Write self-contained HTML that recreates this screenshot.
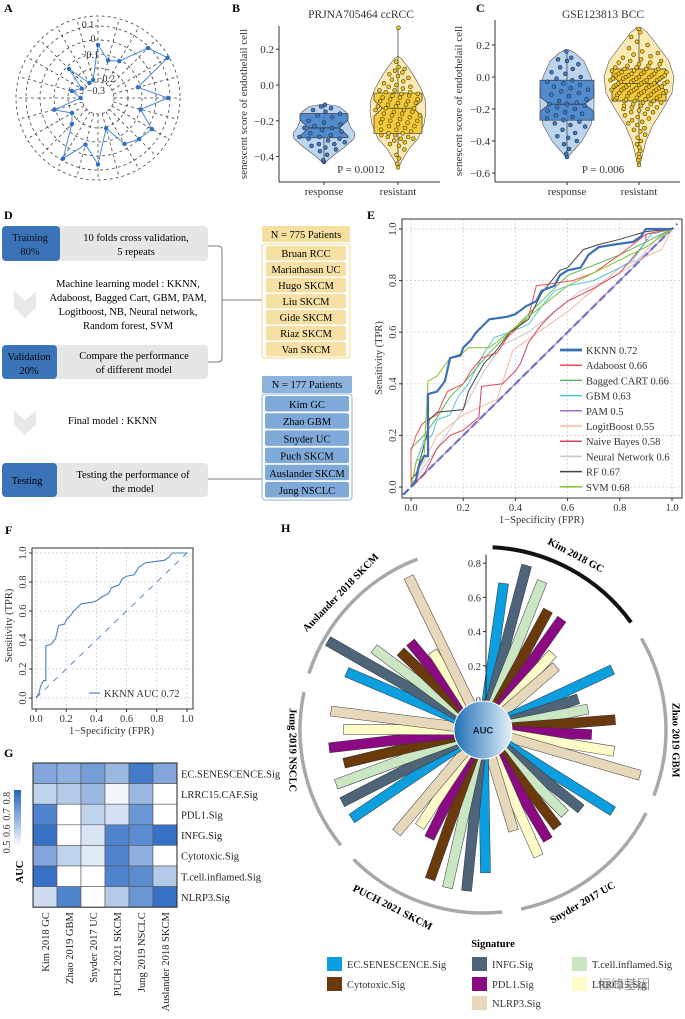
<!DOCTYPE html>
<html><head><meta charset="utf-8"><style>
html,body{margin:0;padding:0;background:#fff;}
svg{display:block;font-family:"Liberation Serif","Noto Serif CJK SC",serif;}
</style></head><body>
<svg id="fig" width="685" height="1019" viewBox="0 0 685 1019" xmlns="http://www.w3.org/2000/svg">
<defs>
<linearGradient id="aucg" x1="0" x2="1" y1="0" y2="0"><stop offset="0" stop-color="#1f6fb5"/><stop offset="1" stop-color="#e3f1fb"/></linearGradient>
<linearGradient id="cbar" x1="0" x2="0" y1="1" y2="0"><stop offset="0" stop-color="#ffffff"/><stop offset="1" stop-color="#2464c0"/></linearGradient>
</defs>
<g font-weight="bold" font-size="12">
<text x="4" y="12">A</text>
<text x="232" y="12">B</text>
<text x="476" y="12">C</text>
<text x="4" y="219">D</text>
<text x="367" y="219">E</text>
<text x="5" y="534">F</text>
<text x="4" y="757">G</text>
<text x="281" y="532">H</text>
</g>
<g id="pA"></g>
<g id="pB"></g>
<g id="pC"></g>
<g id="pD" font-size="10.5">
 <rect x="2" y="226" width="206" height="35" rx="4" fill="#e6e6e6"/>
 <rect x="2" y="226" width="58" height="35" rx="4" fill="#3b73b9"/>
 <text x="30" y="241" text-anchor="middle" fill="#111">Training</text>
 <text x="30" y="255" text-anchor="middle" fill="#111">80%</text>
 <text x="136" y="241" text-anchor="middle">10 folds cross validation,</text>
 <text x="136" y="255" text-anchor="middle">5 repeats</text>
 <path d="M208 246 H218 Q222 246 222 250 V358 Q222 362 218 362 H208 M222 300 H262" fill="none" stroke="#555" stroke-width="0.8"/>
 <path d="M14 291 L25 301 L36 291 L36 308 L25 318 L14 308 Z" fill="#e8e8e8"/>
 <text x="128" y="287" text-anchor="middle">Machine learning model : KKNN,</text>
 <text x="128" y="301" text-anchor="middle">Adaboost, Bagged Cart, GBM, PAM,</text>
 <text x="128" y="315" text-anchor="middle">Logitboost, NB, Neural network,</text>
 <text x="128" y="329" text-anchor="middle">Random forest, SVM</text>
 <rect x="2" y="345" width="206" height="34" rx="4" fill="#e6e6e6"/>
 <rect x="2" y="345" width="55" height="34" rx="4" fill="#3b73b9"/>
 <text x="29" y="360" text-anchor="middle">Validation</text>
 <text x="29" y="374" text-anchor="middle">20%</text>
 <text x="134" y="359" text-anchor="middle">Compare the performance</text>
 <text x="134" y="373" text-anchor="middle">of different model</text>
 <path d="M14 410 L25 420 L36 410 L36 425 L25 435 L14 425 Z" fill="#e8e8e8"/>
 <text x="68" y="424">Final model : KKNN</text>
 <rect x="2" y="463" width="206" height="34" rx="4" fill="#e6e6e6"/>
 <rect x="2" y="463" width="55" height="34" rx="4" fill="#3b73b9"/>
 <text x="27" y="484" text-anchor="middle">Testing</text>
 <text x="133" y="478" text-anchor="middle">Testing the performance of</text>
 <text x="133" y="492" text-anchor="middle">the model</text>
 <path d="M208 479 H262" stroke="#555" stroke-width="0.8"/>
 <g id="cohorts"></g>
</g>
<g id="pE"></g>
<g id="pF"></g>
<g id="pG"></g>
<g id="pH"></g>
</svg>
<script>
// ---------- Panel A data ----------
const radarValues=[-0.035,-0.136,-0.11,0.09,0.16,-0.12,0.085,-0.1,0.03,0,-0.035,-0.19,0.06,-0.07,0.085,-0.15,-0.2,-0.09,-0.29,-0.22,-0.28,-0.12,-0.29,-0.28];
const radarTicks=[0.1,0,-0.1,-0.2,-0.3];
// ---------- Panel B data ----------
const bGroups=['response','resistant'];
const bResponse=[-0.43,-0.42,-0.39,-0.37,-0.36,-0.35,-0.34,-0.33,-0.33,-0.32,-0.31,-0.3,-0.3,-0.29,-0.29,-0.28,-0.27,-0.26,-0.25,-0.24,-0.24,-0.23,-0.22,-0.21,-0.2,-0.18,-0.17,-0.16,-0.15,-0.14,-0.13,-0.12,-0.11];
const bResistant=[-0.46,-0.44,-0.41,-0.39,-0.36,-0.34,-0.33,-0.32,-0.31,-0.3,-0.3,-0.29,-0.29,-0.28,-0.28,-0.27,-0.27,-0.26,-0.25,-0.25,-0.24,-0.23,-0.23,-0.22,-0.21,-0.21,-0.2,-0.2,-0.19,-0.19,-0.18,-0.17,-0.17,-0.16,-0.16,-0.15,-0.15,-0.14,-0.14,-0.13,-0.13,-0.12,-0.12,-0.11,-0.11,-0.1,-0.1,-0.09,-0.09,-0.08,-0.08,-0.07,-0.07,-0.06,-0.06,-0.05,-0.05,-0.04,-0.04,-0.03,-0.03,-0.02,-0.01,-0.01,0,0.01,0.02,0.03,0.04,0.05,0.06,0.07,0.08,0.09,0.1,0.13,0.32];
const bStats={response:[-0.295,-0.24,-0.16],resistant:[-0.27,-0.13,-0.045]};
const bTicks=[0.2,0,-0.2,-0.4];
// ---------- Panel C data ----------
const cResponse=[-0.5,-0.48,-0.45,-0.42,-0.4,-0.38,-0.37,-0.35,-0.33,-0.31,-0.3,-0.29,-0.28,-0.27,-0.26,-0.25,-0.24,-0.23,-0.22,-0.21,-0.2,-0.19,-0.18,-0.17,-0.17,-0.16,-0.15,-0.14,-0.12,-0.11,-0.1,-0.09,-0.08,-0.07,-0.06,-0.05,-0.04,-0.03,-0.02,-0.01,0,0.02,0.03,0.05,0.06,0.08,0.1,0.11,0.12,0.16];
const cResistant=[-0.55,-0.52,-0.5,-0.48,-0.46,-0.44,-0.42,-0.4,-0.38,-0.36,-0.34,-0.33,-0.32,-0.3,-0.29,-0.28,-0.27,-0.26,-0.25,-0.24,-0.23,-0.22,-0.22,-0.21,-0.2,-0.2,-0.19,-0.19,-0.18,-0.18,-0.17,-0.17,-0.16,-0.16,-0.15,-0.15,-0.15,-0.14,-0.14,-0.14,-0.13,-0.13,-0.13,-0.12,-0.12,-0.12,-0.11,-0.11,-0.11,-0.1,-0.1,-0.1,-0.1,-0.09,-0.09,-0.09,-0.09,-0.08,-0.08,-0.08,-0.08,-0.07,-0.07,-0.07,-0.07,-0.06,-0.06,-0.06,-0.06,-0.05,-0.05,-0.05,-0.05,-0.04,-0.04,-0.04,-0.04,-0.03,-0.03,-0.03,-0.03,-0.02,-0.02,-0.02,-0.02,-0.01,-0.01,-0.01,-0.01,0,0,0,0,0.01,0.01,0.01,0.01,0.02,0.02,0.02,0.02,0.03,0.03,0.03,0.04,0.04,0.04,0.05,0.05,0.05,0.06,0.06,0.07,0.07,0.08,0.08,0.09,0.09,0.1,0.1,0.11,0.12,0.13,0.14,0.15,0.16,0.18,0.2,0.22,0.25,0.28,0.3];
const cStats={response:[-0.27,-0.17,-0.02],resistant:[-0.15,-0.04,0.05]};
const cTicks=[0.2,0,-0.2,-0.4,-0.6];
// ---------- Panel D data ----------
const trainCohorts=['Bruan RCC','Mariathasan UC','Hugo SKCM','Liu SKCM','Gide SKCM','Riaz SKCM','Van SKCM'];
const testCohorts=['Kim GC','Zhao GBM','Snyder UC','Puch SKCM','Auslander SKCM','Jung NSCLC'];
// ---------- Panel E data ----------
const rocNames=['KKNN 0.72','Adaboost 0.66','Bagged CART 0.66','GBM 0.63','PAM 0.5','LogitBoost 0.55','Naive Bayes 0.58','Neural Network 0.6','RF 0.67','SVM 0.68'];
const rocKKNN=[[0,0],[0.02,0.03],[0.03,0.08],[0.04,0.1],[0.05,0.12],[0.065,0.12],[0.065,0.36],[0.1,0.37],[0.13,0.41],[0.15,0.5],[0.19,0.51],[0.2,0.54],[0.23,0.57],[0.25,0.6],[0.28,0.63],[0.3,0.65],[0.37,0.66],[0.4,0.67],[0.44,0.7],[0.48,0.72],[0.5,0.76],[0.55,0.78],[0.57,0.82],[0.6,0.84],[0.65,0.85],[0.68,0.9],[0.72,0.93],[0.78,0.94],[0.85,0.95],[0.88,0.97],[0.9,1],[1,1]];
const rocAda=[[0,0],[0,0.14],[0.02,0.2],[0.04,0.24],[0.06,0.26],[0.1,0.28],[0.12,0.33],[0.14,0.37],[0.2,0.4],[0.23,0.45],[0.27,0.5],[0.33,0.52],[0.37,0.58],[0.42,0.63],[0.45,0.66],[0.48,0.78],[0.55,0.79],[0.62,0.8],[0.7,0.83],[0.8,0.9],[0.9,0.98],[1,1]];
const rocBag=[[0,0],[0,0.15],[0.05,0.2],[0.1,0.27],[0.15,0.35],[0.2,0.4],[0.3,0.52],[0.4,0.62],[0.5,0.72],[0.6,0.82],[0.7,0.86],[0.8,0.9],[0.9,0.95],[1,1]];
const rocGBM=[[0,0],[0.02,0.1],[0.05,0.18],[0.08,0.2],[0.1,0.26],[0.15,0.28],[0.18,0.35],[0.22,0.4],[0.28,0.52],[0.32,0.58],[0.38,0.6],[0.45,0.63],[0.5,0.7],[0.55,0.76],[0.6,0.78],[0.7,0.8],[0.8,0.85],[0.85,0.88],[0.92,0.98],[1,1]];
const rocPAM=[[0,0],[1,1]];
const rocLogit=[[0,0.03],[0.05,0.1],[0.1,0.2],[0.2,0.28],[0.33,0.34],[0.39,0.53],[0.6,0.68],[0.8,0.85],[0.96,0.92],[1,1]];
const rocNB=[[0,0],[0.05,0.05],[0.1,0.15],[0.15,0.2],[0.2,0.22],[0.26,0.27],[0.27,0.39],[0.35,0.4],[0.38,0.43],[0.4,0.45],[0.42,0.48],[0.45,0.56],[0.5,0.63],[0.55,0.68],[0.6,0.72],[0.7,0.77],[0.8,0.83],[0.9,0.95],[0.9,0.98],[1,1]];
const rocNN=[[0,0],[0.05,0.08],[0.1,0.15],[0.2,0.3],[0.28,0.45],[0.35,0.55],[0.45,0.6],[0.55,0.68],[0.65,0.76],[0.75,0.8],[0.85,0.86],[0.95,0.97],[1,1]];
const rocRF=[[0,0.03],[0.02,0.05],[0.06,0.2],[0.07,0.26],[0.1,0.29],[0.2,0.3],[0.22,0.37],[0.28,0.48],[0.32,0.52],[0.38,0.6],[0.45,0.65],[0.5,0.75],[0.57,0.84],[0.6,0.85],[0.66,0.92],[0.72,0.94],[0.8,0.96],[0.9,0.99],[1,1]];
const rocSVM=[[0,0],[0.02,0.1],[0.05,0.12],[0.065,0.41],[0.1,0.43],[0.15,0.5],[0.2,0.52],[0.22,0.54],[0.3,0.54],[0.35,0.58],[0.45,0.66],[0.5,0.7],[0.55,0.74],[0.6,0.78],[0.7,0.83],[0.8,0.88],[0.9,0.93],[1,1]];
const rocTicks=[0,0.2,0.4,0.6,0.8,1.0];
// ---------- Panel G data ----------
const hmRows=['EC.SENESCENCE.Sig','LRRC15.CAF.Sig','PDL1.Sig','INFG.Sig','Cytotoxic.Sig','T.cell.inflamed.Sig','NLRP3.Sig'];
const hmCols=['Kim 2018 GC','Zhao 2019 GBM','Snyder 2017 UC','PUCH 2021 SKCM','Jung 2019 NSCLC','Auslander 2018 SKCM'];
const hmEC=[0.7,0.68,0.72,0.66,0.8,0.7];
const hmLRRC=[0.6,0.62,0.66,0.52,0.66,0.45];
const hmPDL1=[0.78,0.45,0.6,0.57,0.74,0.45];
const hmINFG=[0.82,0.45,0.56,0.78,0.76,0.82];
const hmCyto=[0.7,0.6,0.55,0.78,0.68,0.45];
const hmTcell=[0.82,0.45,0.45,0.78,0.76,0.62];
const hmNLRP3=[0.58,0.78,0.45,0.62,0.74,0.82];
const cbarTicks=[0.5,0.6,0.7,0.8];
// ---------- Panel H data ----------
const hGroups=['Kim 2018 GC','Zhao 2019 GBM','Snyder 2017 UC','PUCH 2021 SKCM','Jung 2019 NSCLC','Auslander 2018 SKCM'];
const hSigs=['EC.SENESCENCE.Sig','INFG.Sig','T.cell.inflamed.Sig','Cytotoxic.Sig','PDL1.Sig','LRRC15.Sig','NLRP3.Sig'];
const hKim=[0.69,0.82,0.76,0.62,0.62,0.43,0.39];
const hZhao=[0.66,0.41,0.45,0.6,0.46,0.6,0.78];
const hSnyder=[0.72,0.56,0.51,0.54,0.57,0.63,0.44];
const hPuch=[0.66,0.77,0.77,0.75,0.53,0.5,0.61];
const hJung=[0.75,0.75,0.74,0.66,0.73,0.64,0.72];
const hAus=[0.69,0.87,0.62,0.49,0.49,0.37,0.82];
const hTicks=[0,0.2,0.4,0.6,0.8];

const NS='http://www.w3.org/2000/svg';
function mk(parent,tag,attrs,txt){const e=document.createElementNS(NS,tag);for(const k in attrs)e.setAttribute(k,attrs[k]);if(txt!==undefined)e.textContent=txt;parent.appendChild(e);return e;}
const fmt=v=>(v<0?'\u2212':'')+Math.abs(v).toFixed(1);

// ===== Panel A =====
(function(){
 const g=document.getElementById('pA');const cx=98,cy=98;
 const rA=v=>16+(v+0.3)*140;
 [82].concat(radarTicks.map(rA)).forEach(r=>{const c=mk(g,'circle',{cx,cy,r,fill:'none',stroke:'#444','stroke-width':0.8,'stroke-dasharray':'3,3'});
 
 });
 const n=radarValues.length;
 for(let i=0;i<n;i++){const a=i/n*2*Math.PI;const s=mk(g,'line',{x1:cx+rA(-0.3)*Math.sin(a),y1:cy-rA(-0.3)*Math.cos(a),x2:cx+82*Math.sin(a),y2:cy-82*Math.cos(a),stroke:'#444','stroke-width':0.8,'stroke-dasharray':'3,3'});
 
 }
 const pts=radarValues.map((v,i)=>{const a=i/n*2*Math.PI;return [cx+rA(v)*Math.sin(a),cy-rA(v)*Math.cos(a)];});
 const pl=mk(g,'polygon',{points:pts.map(p=>p.join(',')).join(' '),fill:'none',stroke:'#4a8ad4','stroke-width':1});
 
 
 pts.forEach(p=>{const d=mk(g,'circle',{cx:p[0],cy:p[1],r:2.2,fill:'#2f6fc4'});
 
 });
 const offs=[[-10,2],[-5,2],[-8,4],[8,14],[-2,12]];
 radarTicks.forEach((v,i)=>{const t=mk(g,'text',{x:cx+offs[i][0],y:cy-rA(v)+offs[i][1],'font-size':10,'text-anchor':'middle',fill:'#333'},v===0?'0':fmt(v));
 
 });
})();

// ===== Panels B & C =====
function violinPanel(id,o){
 const g=document.getElementById(id);
 const y=o.y;
 mk(g,'line',{x1:o.ax,y1:o.top,x2:o.ax,y2:o.bot,stroke:'#333','stroke-width':1});
 mk(g,'line',{x1:o.ax,y1:o.bot,x2:o.right,y2:o.bot,stroke:'#333','stroke-width':1});
 o.ticks.forEach(v=>{mk(g,'line',{x1:o.ax-3,y1:y(v),x2:o.ax,y2:y(v),stroke:'#333'});
  const t=mk(g,'text',{x:o.ax-5,y:y(v)+4,'font-size':11,'text-anchor':'end',fill:'#333'},v===0?'0.0':fmt(v));
  
  });
 const tt=mk(g,'text',{x:(o.xs[0]+o.xs[1])/2,y:18,'font-size':11.5,'text-anchor':'middle',fill:'#333'},o.title);
 
 
 const yl=mk(g,'text',{transform:`translate(${o.ylx},${(o.top+o.bot)/2}) rotate(-90)`,'font-size':11,'text-anchor':'middle',fill:'#333'},'senescent score of endothelail cell');
 
 
 const pv=mk(g,'text',{x:(o.xs[0]+o.xs[1])/2,y:o.bot-9,'font-size':11,'text-anchor':'middle',fill:'#333'},o.p);
 
 
 bGroups.forEach((name,gi)=>{
  const x=o.xs[gi],vals=o.vals[gi],prof=o.prof[gi],st=o.stats[name],col=o.cols[gi];
  mk(g,'line',{x1:x,y1:o.bot,x2:x,y2:o.bot+3,stroke:'#333'});
  const xl=mk(g,'text',{x,y:o.bot+13,'font-size':11,'text-anchor':'middle',fill:'#333'},name);
  
  
  const L=prof.map(p=>[x-p[1],y(p[0])]),R=prof.slice().reverse().map(p=>[x+p[1],y(p[0])]);
  const vi=mk(g,'polygon',{points:L.concat(R).map(p=>p.join(',')).join(' '),fill:col[0],'fill-opacity':0.75,stroke:'#555','stroke-width':0.6});
  
  
  mk(g,'line',{x1:x,y1:y(Math.min(...vals)),x2:x,y2:y(Math.max(...vals)),stroke:'#333','stroke-width':0.7});
  const hw=o.bw,n=0.045;const[q1,md,q3]=st;
  const bp=[[x-hw,y(q3)],[x+hw,y(q3)],[x+hw,y(md+n)],[x+hw*0.65,y(md)],[x+hw,y(md-n)],[x+hw,y(q1)],[x-hw,y(q1)],[x-hw,y(md-n)],[x-hw*0.65,y(md)],[x-hw,y(md+n)]];
  const bx=mk(g,'polygon',{points:bp.map(p=>p.join(',')).join(' '),fill:col[1],'fill-opacity':0.85,stroke:'#333','stroke-width':0.7});
  
  
  mk(g,'line',{x1:x-hw*0.65,y1:y(md),x2:x+hw*0.65,y2:y(md),stroke:'#333','stroke-width':0.8});
  vals.forEach((v,i)=>{
   let w=0;for(let k=0;k<prof.length-1;k++){if(v>=prof[k][0]&&v<=prof[k+1][0]){const f=(v-prof[k][0])/(prof[k+1][0]-prof[k][0]||1);w=prof[k][1]+f*(prof[k+1][1]-prof[k][1]);}}
   const j=(((i*37+11)%23)/22-0.5)*2*Math.max(w-3,1)*0.9;
   const d=mk(g,'circle',{cx:x+j,cy:y(v),r:2,fill:col[2],stroke:'#222','stroke-width':0.5});
   
   
  });
 });
}
violinPanel('pB',{y:v=>85-v*179,ax:279,top:26,bot:182,right:440,xs:[324,398],ticks:bTicks,title:'PRJNA705464 ccRCC',ylx:247,p:'P = 0.0012',bw:24,
 vals:[bResponse,bResistant],stats:bStats,
 prof:[[[-0.43,2],[-0.4,8],[-0.35,20],[-0.3,30],[-0.27,31],[-0.24,27],[-0.2,24],[-0.15,22],[-0.12,15],[-0.11,4]],[[-0.46,1],[-0.42,4],[-0.35,12],[-0.3,20],[-0.22,26],[-0.15,28],[-0.08,27],[-0.02,23],[0.05,16],[0.1,10],[0.15,3],[0.16,0]]],
 cols:[['#a7c6ea','#3f7fc8','#3b78c8'],['#f9e39a','#f1c62a','#f2c316']]});
violinPanel('pC',{y:v=>77-v*160,ax:495,top:20,bot:182,right:680,xs:[567,639],ticks:cTicks,title:'GSE123813 BCC',ylx:490-28,p:'P = 0.006',bw:27,
 vals:[cResponse,cResistant],stats:cStats,
 prof:[[[-0.5,1],[-0.45,8],[-0.4,15],[-0.3,24],[-0.2,27],[-0.1,27],[0,24],[0.1,17],[0.15,8],[0.17,2]],[[-0.55,1],[-0.5,3],[-0.4,7],[-0.3,14],[-0.2,24],[-0.1,33],[0,35],[0.1,30],[0.2,18],[0.28,8],[0.31,2]]],
 cols:[['#a7c6ea','#3f7fc8','#3b78c8'],['#f9e39a','#f1c62a','#f2c316']]});

// ===== Panel D cohorts =====
(function(){
 const g=document.getElementById('cohorts');
 const h1=mk(g,'rect',{x:262,y:226,width:88,height:16,fill:'#f6e0a0',rx:1});
 
 
 mk(g,'text',{x:306,y:238,'text-anchor':'middle'},'N = 775 Patients');
 mk(g,'rect',{x:262,y:244,width:88,height:114,fill:'#fff',stroke:'#f2d88a','stroke-width':1,rx:3});
 trainCohorts.forEach((c,i)=>{const r=mk(g,'rect',{x:266,y:246+i*16,width:80,height:14.5,fill:'#f6e0a3',rx:2});
  
  
  mk(g,'text',{x:306,y:257+i*16,'text-anchor':'middle'},c);});
 const h2=mk(g,'rect',{x:262,y:376,width:90,height:17,fill:'#8db4df',rx:1});
 
 
 mk(g,'text',{x:307,y:388,'text-anchor':'middle'},'N = 177 Patients');
 mk(g,'rect',{x:262,y:394,width:90,height:106,fill:'#fff',stroke:'#8db4df','stroke-width':1,rx:3});
 testCohorts.forEach((c,i)=>{const r=mk(g,'rect',{x:265,y:396+i*17.2,width:84,height:15.5,fill:'#7ea9d8',rx:2});
  
  
  mk(g,'text',{x:307,y:408+i*17.2,'text-anchor':'middle'},c);});
})();

// ===== ROC helper =====
function rocFrame(g,xs,ys,fr,fs){
 rocTicks.forEach(t=>{
  mk(g,'line',{x1:xs(t),y1:fr[1],x2:xs(t),y2:fr[1]+fr[3],stroke:'#bbb','stroke-width':0.7,'stroke-dasharray':'1.5,2.5'});
  mk(g,'line',{x1:fr[0],y1:ys(t),x2:fr[0]+fr[2],y2:ys(t),stroke:'#bbb','stroke-width':0.7,'stroke-dasharray':'1.5,2.5'});
  mk(g,'line',{x1:xs(t),y1:fr[1]+fr[3],x2:xs(t),y2:fr[1]+fr[3]+3,stroke:'#333'});
  mk(g,'line',{x1:fr[0]-3,y1:ys(t),x2:fr[0],y2:ys(t),stroke:'#333'});
  const xl=mk(g,'text',{x:xs(t),y:fr[1]+fr[3]+13,'font-size':fs,'text-anchor':'middle',fill:'#333'},t.toFixed(1));
  
  
  const yl=mk(g,'text',{transform:`translate(${fr[0]-6},${ys(t)}) rotate(-90)`,'font-size':fs,'text-anchor':'middle',fill:'#333'},t.toFixed(1));
  
  
 });
 const ft=mk(g,'rect',{x:fr[0],y:fr[1],width:fr[2],height:fr[3],fill:'none',stroke:'#333','stroke-width':1});
 
 
 const xt=mk(g,'text',{x:(xs(0)+xs(1))/2,y:fr[1]+fr[3]+25,'font-size':fs,'text-anchor':'middle',fill:'#333'},'1\u2212Specificity (FPR)');
 
 
 const yt=mk(g,'text',{transform:`translate(${fr[0]-20},${(ys(0)+ys(1))/2}) rotate(-90)`,'font-size':fs,'text-anchor':'middle',fill:'#333'},'Sensitivity (TPR)');
 
 
}
function rocPath(pts,xs,ys){return pts.map((p,i)=>(i?'L':'M')+xs(p[0]).toFixed(1)+' '+ys(p[1]).toFixed(1)).join(' ');}

// ===== Panel E =====
(function(){
 const g=document.getElementById('pE');
 const xs=f=>411+f*261,ys=t=>487-t*258;
 rocFrame(g,xs,ys,[402,219,280,279],10.5);
 const series=[rocKKNN,rocAda,rocBag,rocGBM,rocPAM,rocLogit,rocNB,rocNN,rocRF,rocSVM];
 const cols=['#3d6fb6','#f04e4e','#5cb85c','#4fc3d9','#a070c8','#f7b79d','#d6405e','#c8c8c8','#444444','#8cc63f'];
 const wd=[2.2,1,1,1,1,1,1,1,1,1.1];
 const dg=mk(g,'line',{x1:xs(-0.03),y1:ys(-0.03),x2:xs(1.02),y2:ys(1.02),stroke:'#4a6fb6','stroke-width':2.2,'stroke-dasharray':'8,4'});
 
 
 [4,5,7,6,3,2,1,8,9,0].forEach(i=>{
  const p=mk(g,'path',{d:rocPath(series[i],xs,ys),fill:'none',stroke:cols[i],'stroke-width':wd[i]});
  
  
 });
 rocNames.forEach((n,i)=>{const yy=350+i*15.2;
  const l=mk(g,'line',{x1:560,y1:yy,x2:582,y2:yy,stroke:cols[i],'stroke-width':wd[i]+0.5});
  
  
  const t=mk(g,'text',{x:586,y:yy+4,'font-size':10.5,fill:'#333'},n);
  
  });
})();

// ===== Panel F =====
(function(){
 const g=document.getElementById('pF');
 const xs=f=>36+f*151,ys=t=>698-t*145;
 rocFrame(g,xs,ys,[32,548,161,161],10.5);
 const dg=mk(g,'line',{x1:xs(0),y1:ys(0),x2:xs(1),y2:ys(1),stroke:'#4a7fc0','stroke-width':0.9,'stroke-dasharray':'6,6'});
 
 
 const p=mk(g,'path',{d:rocPath(rocKKNN,xs,ys),fill:'none',stroke:'#4a80c4','stroke-width':1.1});
 
 
 mk(g,'line',{x1:89,y1:693,x2:100,y2:693,stroke:'#4a80c4','stroke-width':1.2});
 const t=mk(g,'text',{x:104,y:697,'font-size':10.5,fill:'#333'},'KKNN AUC 0.72');
 
 
})();

// ===== Panel G =====
(function(){
 const g=document.getElementById('pG');
 const data=[hmEC,hmLRRC,hmPDL1,hmINFG,hmCyto,hmTcell,hmNLRP3];
 const x0=33,y0=763,cw=24,ch=20.6;
 const col=v=>{let f=Math.max(0,Math.min(1,(v-0.5)/0.35));const c0=[255,255,255],c1=[36,100,192];return 'rgb('+c0.map((c,i)=>Math.round(c+(c1[i]-c)*f)).join(',')+')';};
 data.forEach((row,r)=>row.forEach((v,c)=>{
  const e=mk(g,'rect',{x:x0+c*cw,y:y0+r*ch,width:cw,height:ch,fill:col(v),stroke:'#555','stroke-width':0.6});
  
  
 }));
 mk(g,'rect',{x:x0,y:y0,width:cw*6,height:ch*7,fill:'none',stroke:'#222','stroke-width':1});
 hmRows.forEach((n,r)=>{const t=mk(g,'text',{x:x0+cw*6+4,y:y0+r*ch+ch/2+4,'font-size':10.5,fill:'#222'},n);
  
  });
 hmCols.forEach((n,c)=>{const t=mk(g,'text',{transform:`translate(${x0+c*cw+cw/2+4},${y0+ch*7+5}) rotate(-90)`,'font-size':10.5,'text-anchor':'end',fill:'#222'},n);
  
  });
 const cb=mk(g,'rect',{x:14,y:790,width:7,height:57,fill:'url(#cbar)'});
 
 
 const cy=v=>847-(v-0.5)/0.35*57;
 cbarTicks.forEach(v=>{const t=mk(g,'text',{transform:`translate(10,${cy(v)}) rotate(-90)`,'font-size':10,'text-anchor':'middle',fill:'#333'},v.toFixed(1));
  
  });
 const at=mk(g,'text',{transform:'translate(23,872) rotate(-90)','font-size':10.5,'font-weight':'bold','text-anchor':'middle'},'AUC');
 
 
})();

// ===== Panel H =====
(function(){
 const g=document.getElementById('pH');
 const cx=483,cy=730,rH=v=>30+v*171;
 const data=[hKim,hZhao,hSnyder,hPuch,hJung,hAus];
 const cols=['#0c9fe0','#4e6479','#cbe6c3','#6a3a0d','#8b0a84','#fdfbc7','#e7d8bc'];
 const rad=a=>a*Math.PI/180;
 data.forEach((vals,gi)=>{
  const a0=8+gi*57;
  vals.forEach((v,k)=>{const a=a0+k*6.85;
   const r=mk(g,'rect',{x:-5,y:-rH(v),width:10,height:rH(v)-22,fill:cols[k],stroke:'#333','stroke-width':0.5,transform:`translate(${cx},${cy}) rotate(${a})`});
   
   
  });
  const s=a0-5,e=a0+41+5,R=183;
  const arc=mk(g,'path',{d:`M${cx+R*Math.sin(rad(s))} ${cy-R*Math.cos(rad(s))} A${R} ${R} 0 0 1 ${cx+R*Math.sin(rad(e))} ${cy-R*Math.cos(rad(e))}`,fill:'none',stroke:gi===0?'#111':'#a8a8a8','stroke-width':gi===0?4:3.5});
  
  
 });
 const labs=[[28,197,28],[93,192,90],[150,200,-30],[207,200,27],[264,192,90],[314,197,-46]];
 hGroups.forEach((n,i)=>{const[a,R,rot]=labs[i];const x=cx+R*Math.sin(rad(a)),y=cy-R*Math.cos(rad(a));
  const t=mk(g,'text',{transform:`translate(${x},${y}) rotate(${rot})`,'font-size':10.5,'font-weight':'bold','text-anchor':'middle','dominant-baseline':'middle'},n);
  
  });
 mk(g,'line',{x1:486,y1:cy-rH(0),x2:486,y2:cy-rH(0.85),stroke:'#222','stroke-width':1});
 hTicks.forEach(v=>{mk(g,'line',{x1:483,y1:cy-rH(v),x2:486,y2:cy-rH(v),stroke:'#222'});
  const t=mk(g,'text',{x:481,y:cy-rH(v)+4,'font-size':10.5,'text-anchor':'end',fill:'#333'},v===0?'0':v.toFixed(1));
  
  });
 const c=mk(g,'circle',{cx,cy,r:29,fill:'url(#aucg)',stroke:'#fff','stroke-width':1});
 
 
 const ct=mk(g,'text',{x:cx,y:cy+3.5,'font-size':9.5,'font-weight':'bold','text-anchor':'middle','font-family':'Liberation Sans, sans-serif',fill:'#123'},'AUC');
 
 
 const st=mk(g,'text',{x:493,y:947,'font-size':10.5,'font-weight':'bold','text-anchor':'middle'},'Signature');
 
 
 const leg=[[0,327,965],[3,327,985],[1,472,965],[4,472,985],[6,472,1004],[2,572,965],[5,572,985]];
 leg.forEach(([k,x,y])=>{const r=mk(g,'rect',{x,y:y-8,width:15,height:14,fill:cols[k]});
  
  
  const t=mk(g,'text',{x:x+20,y:y+3,'font-size':10.5,fill:'#333'},hSigs[k]);
  
  });
 const wm=mk(g,'text',{x:598,y:989,'font-size':13,fill:'#777','fill-opacity':0.8,'font-family':'Liberation Sans, Noto Sans CJK SC, sans-serif'},'恒峰基因');
 
 
})();
</script>
</body></html>
